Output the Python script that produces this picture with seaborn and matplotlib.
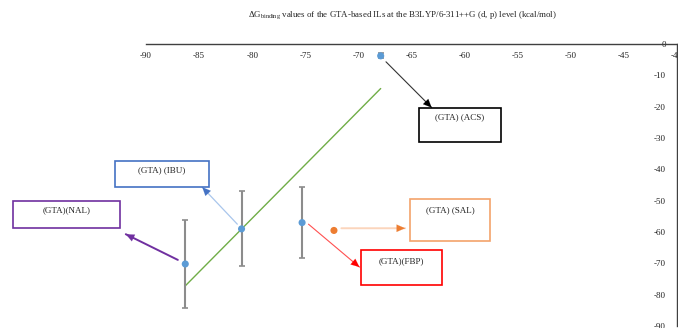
import numpy as np
import pandas as pd
import matplotlib
matplotlib.use("Agg")
import matplotlib.pyplot as plt
import seaborn as sns
from matplotlib.patches import Rectangle

sns.set_theme(style="white")
plt.rcParams["font.family"] = ["Liberation Serif", "DejaVu Serif"]
plt.rcParams["mathtext.fontset"] = "custom"
plt.rcParams["mathtext.rm"] = "Liberation Serif"
plt.rcParams["mathtext.it"] = "Liberation Serif:italic"

# Binding energies of the GTA-based ionic liquids (kcal/mol)
ils = ["NAL", "IBU", "FBP", "ACS"]
x_vals = [-86.3, -81.0, -75.3, -67.9]
y_vals = [-70.2, -59.0, -57.0, -3.8]
y_err = [14.0, 12.0, 11.4, 0.8]
sal_x = [-72.3]
sal_y = [-59.5]

x_ticks = [-90, -85, -80, -75, -70, -65, -60, -55, -50, -45, -40]
y_ticks = [0, -10, -20, -30, -40, -50, -60, -70, -80, -90]

df = pd.DataFrame({"IL": ils, "x": x_vals, "y": y_vals, "err": y_err})
df_sal = pd.DataFrame({"x": sal_x, "y": sal_y})

fig = plt.figure(figsize=(6.78, 3.28), dpi=100)
ax = fig.add_axes([0.2153, 0.006, 0.7832, 0.86])
ax.set_xlim(-90, -40)
ax.set_ylim(-90, 0)

# linear trend through the four points
sns.regplot(data=df, x="x", y="y", ax=ax, scatter=False, ci=None, truncate=True,
            line_kws=dict(color="#70AD47", lw=1.0))
ax.errorbar(df["x"], df["y"], yerr=df["err"], fmt="none", ecolor="#8C8C8C",
            elinewidth=1.5, capsize=2.5, capthick=1.2, zorder=2)
sns.scatterplot(data=df, x="x", y="y", ax=ax, color="#5B9BD5", s=26,
                edgecolor="none", zorder=3)
sns.scatterplot(data=df_sal, x="x", y="y", ax=ax, color="#ED7D31", s=26,
                edgecolor="none", zorder=3)

# spines crossing at y = 0 and x = -40
ax.spines["bottom"].set_position(("data", 0))
ax.spines["left"].set_position(("data", -40))
ax.spines["top"].set_visible(False)
ax.spines["right"].set_visible(False)
for s in ("bottom", "left"):
    ax.spines[s].set_color("#404040")
    ax.spines[s].set_linewidth(1.0)
ax.set_xticks(x_ticks)
ax.set_yticks(y_ticks)
ax.set_xticklabels([str(t) for t in x_ticks])
ax.set_yticklabels([str(t) for t in y_ticks])
ax.tick_params(axis="both", labelsize=6.5, length=0, pad=6, colors="#222222")
ax.tick_params(axis="y", pad=8)
ax.set_xlabel("")
ax.set_ylabel("")

fig.text(0.593, 0.953,
         r"$\Delta\mathrm{G}_{\mathrm{binding}}$ values of the GTA-based ILs at the B3LYP/6-311++G (d, p) level (kcal/mol)",
         ha="center", va="center", fontsize=6.4, color="#222222")

# labelled boxes with arrows
boxes = [
    # label, x0, x1, y_bottom, y_top, edge color, text y
    ("(GTA) (ACS)", -64.3, -56.6, -31.4, -20.3, "#000000", -23.5),
    ("(GTA) (IBU)", -92.9, -84.1, -45.7, -37.5, "#4472C4", -40.3),
    ("(GTA)(NAL)", -102.5, -92.4, -58.8, -50.2, "#7030A0", -53.0),
    ("(GTA) (SAL)", -65.1, -57.6, -62.9, -49.6, "#F4A36B", -53.0),
    ("(GTA)(FBP)", -69.8, -62.1, -76.9, -65.8, "#FF0000", -69.3),
]
for label, x0, x1, yb, yt, ec, ty in boxes:
    ax.add_patch(Rectangle((x0, yb), x1 - x0, yt - yb, fill=False, edgecolor=ec,
                           lw=1.2, clip_on=False, zorder=4))
    ax.text((x0 + x1) / 2, ty, label, ha="center", va="center", fontsize=6.5,
            color="#222222", clip_on=False)

arrows = [
    ((-67.4, -5.7), (-63.1, -20.3), "#333333", "#000000", 0.8),
    ((-81.4, -57.5), (-84.7, -45.7), "#A9C6EC", "#4472C4", 0.9),
    ((-87.0, -68.9), (-91.9, -60.7), "#7030A0", "#7030A0", 1.4),
    ((-71.6, -58.8), (-65.6, -58.8), "#FBD5BC", "#ED7D31", 1.4),
    ((-74.7, -57.5), (-69.9, -71.2), "#FF5050", "#FF0000", 0.8),
]
for start, end, lc, hc, lw in arrows:
    ax.annotate("", xy=end, xytext=start,
                arrowprops=dict(arrowstyle="-", color=lc, lw=lw,
                                shrinkA=0, shrinkB=0),
                annotation_clip=False)
    ax.annotate("", xy=end,
                xytext=(end[0] - (end[0] - start[0]) * 0.12,
                        end[1] - (end[1] - start[1]) * 0.12),
                arrowprops=dict(arrowstyle="-|>,head_length=0.5,head_width=0.22",
                                color=hc, lw=0.1, shrinkA=0, shrinkB=0),
                annotation_clip=False)

fig.savefig("out.png", dpi=100)
